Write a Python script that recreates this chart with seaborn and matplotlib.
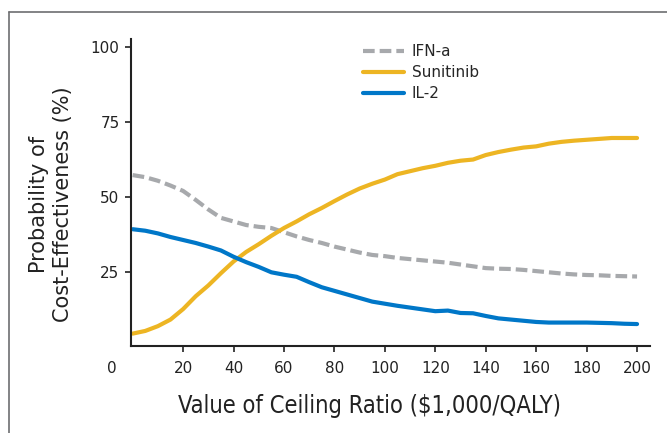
import pandas as pd
import matplotlib
matplotlib.use("Agg")
import matplotlib.pyplot as plt
from matplotlib.lines import Line2D
from matplotlib import font_manager
import seaborn as sns


# ceiling ratio ($1,000/QALY)
ceiling = [0, 5, 10, 15, 20, 25, 30, 35, 40, 45, 50, 55, 60, 65, 70, 75, 80,
           85, 90, 95, 100, 105, 110, 115, 120, 125, 130, 135, 140, 145, 150,
           155, 160, 165, 170, 175, 180, 185, 190, 195, 200]

ifn_a = [57.3, 56.6, 55.4, 53.8, 52.0, 49.0, 45.8, 43.0, 41.8, 40.6, 40.0,
         39.6, 38.2, 36.8, 35.6, 34.6, 33.4, 32.4, 31.4, 30.6, 30.2, 29.6,
         29.2, 28.8, 28.4, 28.0, 27.4, 26.8, 26.2, 26.0, 25.9, 25.6, 25.2,
         24.8, 24.4, 24.1, 23.9, 23.8, 23.6, 23.5, 23.4]

sunitinib = [4.3, 5.2, 6.8, 9.0, 12.5, 16.8, 20.4, 24.5, 28.4, 31.6, 34.2,
             37.0, 39.6, 41.8, 44.2, 46.3, 48.6, 50.8, 52.8, 54.4, 55.8, 57.6,
             58.6, 59.6, 60.4, 61.4, 62.1, 62.5, 64.0, 65.0, 65.8, 66.5, 66.9,
             67.8, 68.4, 68.8, 69.1, 69.4, 69.7, 69.7, 69.7]

il_2 = [39.2, 38.7, 37.8, 36.6, 35.6, 34.6, 33.4, 32.1, 30.0, 28.2, 26.6,
        24.8, 24.0, 23.3, 21.5, 19.8, 18.6, 17.4, 16.2, 15.0, 14.3, 13.6,
        13.0, 12.4, 11.8, 12.0, 11.2, 11.1, 10.2, 9.4, 9.0, 8.6, 8.2, 8.0,
        8.0, 8.0, 8.0, 7.9, 7.8, 7.6, 7.5]

treatments = ["IFN-a", "Sunitinib", "IL-2"]
colors = {"IFN-a": "#a7a9ac", "Sunitinib": "#edb523", "IL-2": "#0077c8"}
dashes = {"IFN-a": (2.8, 1.2), "Sunitinib": "", "IL-2": ""}

x_ticks = [20, 40, 60, 80, 100, 120, 140, 160, 180, 200]
y_ticks = [25, 50, 75, 100]


df = pd.concat([
    pd.DataFrame({"ceiling": ceiling, "prob": vals, "treatment": name})
    for name, vals in zip(treatments, [ifn_a, sunitinib, il_2])
])

sns.set_style("ticks")
plt.rcParams["font.family"] = ["DejaVu Sans"]

# condensed face for the x label, if one is installed
narrow = None
for f in font_manager.fontManager.ttflist:
    if f.name in ("DejaVu Sans", "Liberation Sans Narrow") and \
            f.stretch in ("condensed", 400 - 100) and f.weight in ("normal", 400) \
            and f.style == "normal":
        narrow = f.fname
        break
if narrow is None:
    for f in font_manager.fontManager.ttflist:
        if "condensed" in f.fname.lower() and "bold" not in f.fname.lower() \
                and "oblique" not in f.fname.lower() and "sans" in f.fname.lower() \
                and "mono" not in f.fname.lower():
            narrow = f.fname
            break

fig = plt.figure(figsize=(6.67, 4.33), dpi=100)
ax = fig.add_axes([0.197, 0.1998, 0.777, 0.7095])

sns.lineplot(data=df, x="ceiling", y="prob", hue="treatment", style="treatment",
             hue_order=treatments, style_order=treatments, palette=colors,
             dashes=dashes, linewidth=3, ax=ax)

ax.set_xlim(-0.5, 205)
ax.set_ylim(0, 102.7)
ax.set_xticks(x_ticks)
ax.set_yticks(y_ticks)
ax.tick_params(axis="both", length=4.5, width=1.2, color="#222222",
               labelsize=11, labelcolor="#222222")
ax.tick_params(axis="x", pad=6)
ax.tick_params(axis="y", pad=4)
for side in ["top", "right"]:
    ax.spines[side].set_visible(False)
for side in ["left", "bottom"]:
    ax.spines[side].set_linewidth(1.5)
    ax.spines[side].set_color("#222222")

# origin label
ax.annotate("0", xy=(-8.3, 0), xycoords=("data", "axes fraction"),
            xytext=(0, -10.5), textcoords="offset points",
            ha="center", va="top", fontsize=11, color="#222222")

if narrow is not None:
    xfont = font_manager.FontProperties(fname=narrow, size=17)
else:
    xfont = font_manager.FontProperties(family="DejaVu Sans", size=15)
ax.set_xlabel("Value of Ceiling Ratio ($1,000/QALY)", fontproperties=xfont,
              color="#222222")
ax.xaxis.set_label_coords(0.459, -0.155)
ax.set_ylabel("Probability of\nCost-Effectiveness (%)", fontsize=15,
              linespacing=1.3, color="#222222", va="center")
ax.yaxis.set_label_coords(-0.155, 0.463)

handles = [Line2D([], [], color=colors[t], lw=3,
                  linestyle=(0, dashes[t]) if dashes[t] else "-")
           for t in treatments]
ax.legend(handles, treatments, loc="upper left", bbox_to_anchor=(0.447, 0.985),
          frameon=False, fontsize=11, handlelength=2.7, handletextpad=0.5,
          labelspacing=0.4, borderpad=0, borderaxespad=0)

# outer frame (top and left only visible)
fig.add_artist(Line2D([9, 667], [421, 421], transform=None,
                      color="#6d6e71", lw=1.2))
fig.add_artist(Line2D([9, 9], [0, 421], transform=None,
                      color="#6d6e71", lw=1.2))

fig.savefig("out.png", dpi=100)
